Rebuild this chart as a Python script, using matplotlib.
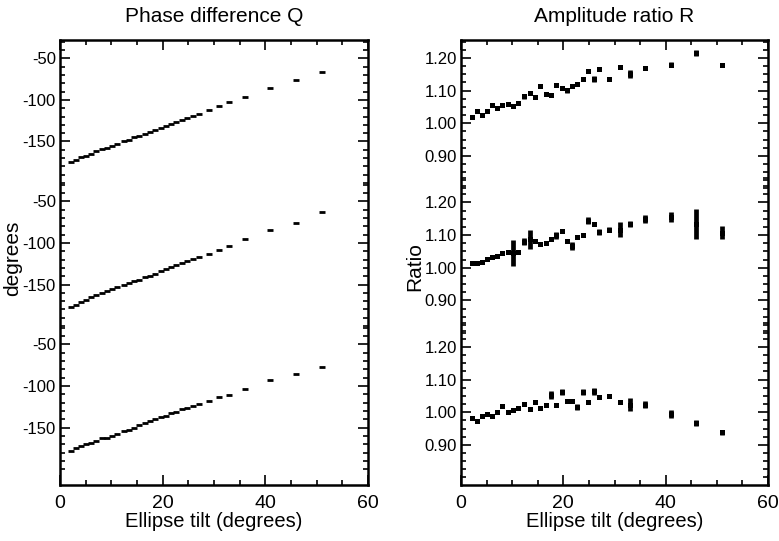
import numpy as np
import matplotlib
matplotlib.use("Agg")
import matplotlib.pyplot as plt
from matplotlib.ticker import FixedLocator, FixedFormatter

plt.rcParams['font.family'] = ['Liberation Sans', 'DejaVu Sans']

# ---------------- data ----------------
tilt = [2.1, 3.1, 4.1, 5.0, 6.0, 7.1, 8.1, 9.2, 10.2, 11.2, 12.4, 13.4, 14.5,
        15.4, 16.6, 17.5, 18.6, 19.7, 20.7, 21.6, 22.6, 23.8, 24.8, 25.9, 27.0,
        29.0, 31.0, 33.0, 36.0, 41.0, 46.0, 51.0]

phase_top = [-175, -172, -169, -167, -164.5, -162, -159, -157.5, -156, -153.5,
             -149.5, -148.5, -145, -143, -141, -139, -136.5, -134, -131.5,
             -128.5, -126, -124, -121.5, -119, -116.5, -112.5, -107.5, -103,
             -96, -86, -76.5, -67]
phase_mid = [-177, -174, -171, -168.5, -165, -162.5, -160, -157.5, -155, -153,
             -150.5, -148.5, -146, -144.5, -141.5, -139.5, -137, -134, -131,
             -129.5, -127, -124.5, -122, -119.5, -117, -113, -108.5, -104,
             -95.5, -85, -75.5, -63]
phase_bot = [-178, -175, -172, -170, -168, -166, -163, -162, -160, -158,
             -154.5, -152.5, -150, -147, -144, -142, -140, -137.5, -136, -133,
             -131.5, -128, -126.5, -124, -122, -118.5, -113.5, -111, -104, -93,
             -85, -77]

ratio_top = [1.020, 1.038, 1.026, 1.038, 1.055, 1.046, 1.055, 1.059, 1.052,
             1.062, 1.083, 1.093, 1.080, 1.114, 1.090, 1.086, 1.117, 1.109,
             1.101, 1.114, 1.121, 1.135, 1.161, 1.135, 1.166, 1.135, 1.171,
             1.151, 1.168, 1.179, 1.215, 1.179]
ratio_top_err = [0.002, 0.002, 0.002, 0.002, 0.002, 0.002, 0.002, 0.002, 0.002,
                 0.003, 0.008, 0.004, 0.004, 0.004, 0.004, 0.004, 0.004, 0.004,
                 0.008, 0.004, 0.004, 0.005, 0.006, 0.010, 0.006, 0.006, 0.006,
                 0.012, 0.003, 0.008, 0.008, 0.006]

ratio_mid = [1.014, 1.016, 1.018, 1.027, 1.034, 1.037, 1.045, 1.049, 1.045,
             1.047, 1.080, 1.087, 1.083, 1.073, 1.075, 1.087, 1.099, 1.113,
             1.081, 1.066, 1.095, 1.099, 1.144, 1.134, 1.110, 1.116, 1.116,
             1.134, 1.150, 1.155, 1.134, 1.107]
ratio_mid_err = [0.002, 0.002, 0.002, 0.003, 0.003, 0.003, 0.004, 0.006, 0.039,
                 0.006, 0.010, 0.030, 0.006, 0.006, 0.006, 0.006, 0.012, 0.006,
                 0.006, 0.012, 0.006, 0.006, 0.010, 0.006, 0.010, 0.008, 0.023,
                 0.010, 0.012, 0.015, 0.045, 0.020]

ratio_bot = [0.981, 0.974, 0.990, 0.995, 0.990, 1.000, 1.019, 1.002, 1.008,
             1.012, 1.026, 1.010, 1.030, 1.012, 1.023, 1.054, 1.023, 1.062,
             1.033, 1.033, 1.016, 1.062, 1.031, 1.064, 1.047, 1.050, 1.030,
             1.023, 1.023, 0.995, 0.967, 0.939]
ratio_bot_err = [0.002, 0.003, 0.003, 0.003, 0.003, 0.003, 0.004, 0.004, 0.004,
                 0.004, 0.004, 0.004, 0.004, 0.004, 0.004, 0.012, 0.004, 0.008,
                 0.004, 0.004, 0.010, 0.010, 0.006, 0.010, 0.006, 0.006, 0.006,
                 0.020, 0.010, 0.012, 0.010, 0.008]

phase_ticks = [-50, -100, -150]
ratio_ticks = [0.90, 1.00, 1.10, 1.20]
x_ticks = [0, 20, 40, 60]

# vertical offsets stacking the three sub-plots in one frame
phase_offsets = [344, 172, 0]
ratio_offsets = [0.886, 0.443, 0.0]

# ---------------- figure ----------------
W, H = 779, 541
fig = plt.figure(figsize=(W / 100, H / 100), dpi=100)
fig.patch.set_facecolor('white')

def rect(x0, x1, ytop, ybot):
    return [x0 / W, 1 - ybot / H, (x1 - x0) / W, (ybot - ytop) / H]

axL = fig.add_axes(rect(60, 368, 40, 485))
axR = fig.add_axes(rect(461, 768, 40, 485))

tx = np.array(tilt, dtype=float)

# Left: phase difference
for vals, off in zip([phase_top, phase_mid, phase_bot], phase_offsets):
    axL.plot(tx, np.array(vals) + off, linestyle='none', marker='_',
             markersize=4.5, markeredgewidth=2.0, color='black')
axL.set_xlim(0, 60)
axL.set_ylim(-219, 316)

maj = []
labs = []
mins = []
for off in phase_offsets:
    for t in phase_ticks:
        maj.append(t + off)
        labs.append(str(t))
    for m in range(-200, -20, 10):
        v = m + off
        if -219 < v < 316:
            mins.append(v)
axL.yaxis.set_major_locator(FixedLocator(maj))
axL.yaxis.set_major_formatter(FixedFormatter(labs))
axL.yaxis.set_minor_locator(FixedLocator(mins))

# Right: amplitude ratio
for vals, err, off in zip([ratio_top, ratio_mid, ratio_bot],
                          [ratio_top_err, ratio_mid_err, ratio_bot_err],
                          ratio_offsets):
    axR.errorbar(tx, np.array(vals) + off, yerr=err, fmt='s', markersize=3.6,
                 color='black', ecolor='black', elinewidth=3.4, capsize=0,
                 markeredgewidth=0)
axR.set_xlim(0, 60)
axR.set_ylim(0.777, 2.141)

maj = []
labs = []
mins = []
for off in ratio_offsets:
    for t in ratio_ticks:
        maj.append(t + off)
        labs.append(f"{t:.2f}")
    for k in range(0, 20):
        v = 0.80 + 0.025 * k + off
        if 0.777 < v < 2.141:
            mins.append(v)
axR.yaxis.set_major_locator(FixedLocator(maj))
axR.yaxis.set_major_formatter(FixedFormatter(labs))
axR.yaxis.set_minor_locator(FixedLocator(mins))

for ax, title in [(axL, "Phase difference Q"), (axR, "Amplitude ratio R")]:
    ax.xaxis.set_major_locator(FixedLocator(x_ticks))
    ax.xaxis.set_minor_locator(FixedLocator(list(range(0, 61, 5))))
    ax.tick_params(which='both', direction='in', top=True, right=True,
                   color='black', width=1.2)
    ax.tick_params(which='major', length=7)
    ax.tick_params(which='minor', length=3.5)
    ax.tick_params(axis='x', which='major', labelsize=14, pad=7)
    ax.tick_params(axis='y', which='major', labelsize=12, pad=3)
    for s in ax.spines.values():
        s.set_linewidth(1.8)
        s.set_color('black')
    ax.set_title(title, fontsize=15, pad=13)
    ax.set_xlabel("Ellipse tilt (degrees)", fontsize=14.5, labelpad=0)

axL.set_ylabel("degrees", fontsize=15)
axL.yaxis.set_label_coords(-0.122, 0.51)
axR.set_ylabel("Ratio", fontsize=15)
axR.yaxis.set_label_coords(-0.12, 0.49)

fig.savefig("out.png", dpi=100, facecolor='white')
